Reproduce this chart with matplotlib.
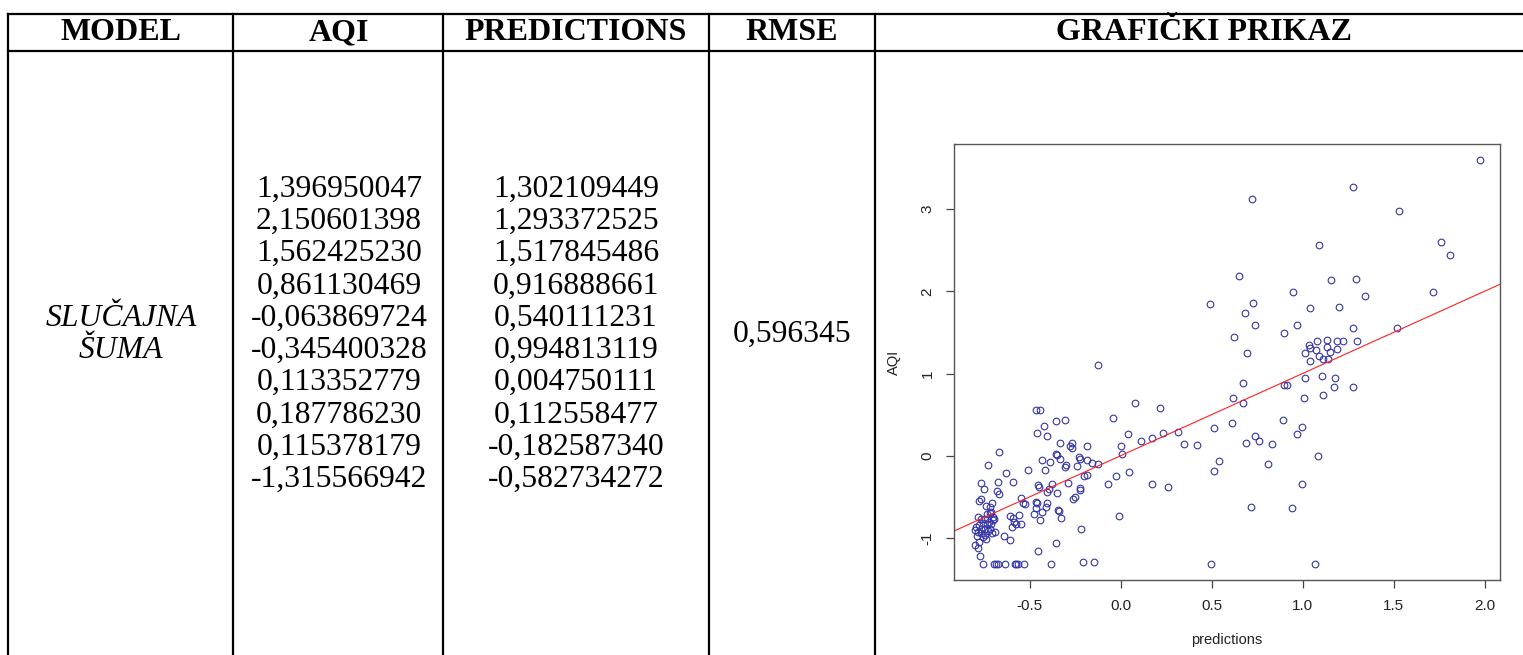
import matplotlib.pyplot as plt
import numpy as np

# Table contents
headers = ["MODEL", "AQI", "PREDICTIONS", "RMSE", "GRAFIČKI PRIKAZ"]
model_name = ["SLUČAJNA", "ŠUMA"]
aqi_values = ["1,396950047", "2,150601398", "1,562425230", "0,861130469",
              "-0,063869724", "-0,345400328", "0,113352779", "0,187786230",
              "0,115378179", "-1,315566942"]
pred_values = ["1,302109449", "1,293372525", "1,517845486", "0,916888661",
               "0,540111231", "0,994813119", "0,004750111", "0,112558477",
               "-0,182587340", "-0,582734272"]
rmse_value = "0,596345"

# Scatter data (predictions, AQI)
pred_pts = [
    1.977, 1.279, 0.721, 1.530, 1.091, 1.759, 1.810, 0.649, 1.157, 1.294,
    0.950, 1.719, 1.345, 0.494, 0.728, 0.686, 1.040, 1.201, 0.741, 0.968,
    0.898, 1.279, 1.519, 0.622, 0.697,
    1.136, 1.190, 1.221, 1.301, 1.079, 1.034, 1.041, 1.074, 1.136, 1.151,
    1.188, 1.013, 1.092, 1.040, 1.113, 1.138,
    0.673, 0.898, 0.917, 1.015, 1.107, 1.177, 1.173, 1.276, 0.618, 0.675,
    1.008, 1.111, 0.891, 0.611, 0.516, 0.997, 0.971, 0.741, 0.690, 0.761,
    0.834, 0.420, 1.085, 0.541, 0.512, 0.810, 0.997, 0.717, 0.942, 0.497,
    1.067,
    -0.125, 0.080, 0.217, -0.043, 0.041, 0.111, 0.175, 0.234, 0.316, 0.347,
    0.005, 0.007, -0.026, 0.047, -0.070, 0.175, 0.259, -0.007, -0.217, -0.353,
    -0.208, -0.144, -0.668, -0.730,
    -0.466, -0.442, -0.356, -0.305, -0.422, -0.457, -0.404, -0.331, -0.268, -0.276,
    -0.268, -0.184, -0.354, -0.349, -0.433, -0.386, -0.334, -0.228, -0.224, -0.184,
    -0.158, -0.122, -0.299, -0.305, -0.241, -0.510, -0.415, -0.202, -0.184, -0.451,
    -0.449, -0.375, -0.287, -0.224, -0.223, -0.393, -0.404, -0.349, -0.252, -0.259,
    -0.525, -0.466, -0.459, -0.404, -0.466, -0.407, -0.345, -0.336, -0.430, -0.474,
    -0.327, -0.444,
    -0.627, -0.766, -0.750, -0.675, -0.592, -0.680, -0.668, -0.547, -0.536, -0.715,
    -0.609, -0.592, -0.556, -0.584, -0.574, -0.548, -0.596, -0.455, -0.638, -0.609,
    -0.783, -0.765, -0.746, -0.724, -0.702, -0.693, -0.710, -0.735, -0.754, -0.776,
    -0.794, -0.801, -0.783, -0.765, -0.746, -0.728, -0.706, -0.691, -0.717, -0.768,
    -0.787, -0.757, -0.739, -0.776, -0.798, -0.783, -0.772, -0.743, -0.699, -0.713,
    -0.735, -0.718, -0.737, -0.708, -0.765, -0.779,
    -0.754, -0.693, -0.682, -0.673, -0.636, -0.581, -0.572, -0.563, -0.530, -0.380,
]
aqi_pts = [
    3.594, 3.265, 3.123, 2.977, 2.567, 2.596, 2.445, 2.186, 2.134, 2.150,
    1.992, 1.992, 1.943, 1.846, 1.861, 1.732, 1.793, 1.805, 1.594, 1.594,
    1.489, 1.557, 1.557, 1.440, 1.246,
    1.408, 1.395, 1.395, 1.395, 1.391, 1.347, 1.314, 1.286, 1.319, 1.262,
    1.294, 1.246, 1.217, 1.156, 1.173, 1.173,
    0.888, 0.864, 0.864, 0.941, 0.970, 0.941, 0.832, 0.836, 0.706, 0.645,
    0.706, 0.738, 0.434, 0.401, 0.341, 0.349, 0.260, 0.243, 0.158, 0.175,
    0.142, 0.130, -0.008, -0.068, -0.182, -0.105, -0.348, -0.624, -0.633, -1.321,
    -1.321,
    1.100, 0.637, 0.576, 0.462, 0.260, 0.182, 0.211, 0.272, 0.288, 0.139,
    0.114, 0.024, -0.251, -0.202, -0.348, -0.348, -0.381, -0.737, -0.896, -1.062,
    -1.293, -1.293, 0.041, -0.113,
    0.552, 0.552, 0.422, 0.430, 0.357, 0.272, 0.236, 0.158, 0.158, 0.118,
    0.090, 0.114, 0.025, 0.005, -0.056, -0.081, -0.036, -0.019, -0.040, -0.048,
    -0.089, -0.101, -0.113, -0.137, -0.121, -0.174, -0.174, -0.247, -0.235, -0.360,
    -0.377, -0.340, -0.328, -0.397, -0.417, -0.405, -0.445, -0.458, -0.499, -0.531,
    -0.584, -0.560, -0.579, -0.579, -0.633, -0.628, -0.665, -0.669, -0.689, -0.713,
    -0.762, -0.786,
    -0.214, -0.336, -0.409, -0.316, -0.324, -0.429, -0.466, -0.519, -0.576, -0.693,
    -0.730, -0.762, -0.722, -0.810, -0.835, -0.835, -0.871, -1.160, -0.973, -1.026,
    -0.742, -0.770, -0.774, -0.803, -0.782, -0.774, -0.831, -0.831, -0.823, -0.843,
    -0.864, -0.904, -0.925, -0.895, -0.892, -0.916, -0.937, -0.928, -0.895, -0.944,
    -0.973, -0.985, -1.010, -1.046, -1.086, -1.119, -1.220, -0.964, -0.742, -0.685,
    -0.713, -0.628, -0.608, -0.579, -0.527, -0.555,
    -1.321, -1.321, -1.321, -1.321, -1.321, -1.321, -1.321, -1.321, -1.321, -1.321,
]
line_intercept = 0.0
line_slope = 1.0

x_ticks = [-0.5, 0.0, 0.5, 1.0, 1.5, 2.0]
y_ticks = [-1, 0, 1, 2, 3]

W, H = 1523, 655
fig = plt.figure(figsize=(W / 100, H / 100), dpi=100)

# Background axes in pixel coordinates for the table grid and text
bg = fig.add_axes([0, 0, 1, 1])
bg.set_xlim(0, W)
bg.set_ylim(H, 0)
bg.axis('off')

serif = 'Liberation Serif'
col_edges = [8.5, 233, 443, 709, 875]
col_centers = [121, 339, 576, 792, 1204]
top_y, head_y = 13.5, 51
lw = 1.6

bg.plot([col_edges[0], W], [top_y, top_y], color='black', lw=lw)
bg.plot([col_edges[0], W], [head_y, head_y], color='black', lw=lw)
for xe in col_edges:
    bg.plot([xe, xe], [top_y, H], color='black', lw=lw)

for name, xc in zip(headers, col_centers):
    bg.text(xc, 33, name, ha='center', va='center', fontsize=23,
            fontweight='bold', family=serif)

row0, row_step = 189, 32.3
for i, (a, p) in enumerate(zip(aqi_values, pred_values)):
    yy = row0 + i * row_step
    bg.text(col_centers[1], yy, a, ha='center', va='center', fontsize=22.8,
            family=serif)
    bg.text(col_centers[2], yy, p, ha='center', va='center', fontsize=22.8,
            family=serif)

for i, word in enumerate(model_name):
    bg.text(col_centers[0], row0 + (4 + i) * row_step, word, ha='center',
            va='center', fontsize=22.8, family=serif, style='italic')

bg.text(col_centers[3], row0 + 4.5 * row_step, rmse_value, ha='center',
        va='center', fontsize=22.8, family=serif)

# Scatter plot (R style)
left, right, top, bottom = 954, 1500, 144, 580
ax = fig.add_axes([left / W, 1 - bottom / H, (right - left) / W, (bottom - top) / H])
ax.plot(pred_pts, aqi_pts, 'o', ms=4.8, mfc='none', mec='#3434a8', mew=0.8)
ax.axline((0, line_intercept), slope=line_slope, color='#ff2020', lw=0.8)

ax.set_xlim(-0.915, 2.085)
ax.set_ylim(-1.51, 3.79)
ax.set_xticks(x_ticks)
ax.set_xticklabels([f"{t:.1f}" for t in x_ticks])
ax.set_yticks(y_ticks)
ax.set_yticklabels([str(t) for t in y_ticks], rotation=90, va='center')
ax.tick_params(direction='out', length=6, width=0.9, color='#444444',
               labelsize=11, pad=8, labelcolor='#222222')
for lab in ax.get_xticklabels() + ax.get_yticklabels():
    lab.set_family('Liberation Sans')
for s in ax.spines.values():
    s.set_color('#555555')
    s.set_linewidth(1.0)
ax.set_xlabel("predictions", fontsize=10.5, labelpad=14, color='#222222',
              family='Liberation Sans')
ax.set_ylabel("AQI", fontsize=10.5, labelpad=14, color='#222222',
              family='Liberation Sans')

fig.savefig("out.png", dpi=100)
